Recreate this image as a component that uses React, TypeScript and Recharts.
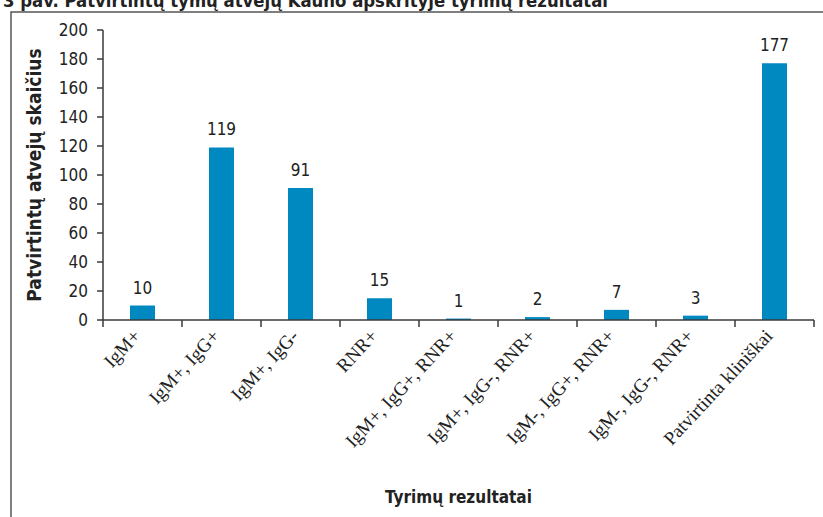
import React from "react";
import { BarChart, Bar, XAxis, YAxis, LabelList, Label } from "recharts";

const categories = [
  "IgM+",
  "IgM+, IgG+",
  "IgM+, IgG-",
  "RNR+",
  "IgM+, IgG+, RNR+",
  "IgM+, IgG-, RNR+",
  "IgM-, IgG+, RNR+",
  "IgM-, IgG-, RNR+",
  "Patvirtinta kliniškai",
];
const cases = [10, 119, 91, 15, 1, 2, 7, 3, 177];
const yTicks = [0, 20, 40, 60, 80, 100, 120, 140, 160, 180, 200];
const titleText = "3 pav. Patvirtintų tymų atvejų Kauno apskrityje tyrimų rezultatai";
const yTitle = "Patvirtintų atvejų skaičius";
const xTitle = "Tyrimų rezultatai";

const data = categories.map((c, i) => ({ name: c, value: cases[i] }));

const W = 823;
const H = 517;
const LEFT = 103;
const RIGHT = 9;
const BAND = (W - LEFT - RIGHT) / categories.length;
const NARROW = "'Liberation Sans Narrow', 'DejaVu Sans Condensed', 'Arial Narrow', sans-serif";
const AXIS_COLOR = "#3a3a3a";

const XTick = (props: any) => {
  const { x, y, payload, index } = props;
  const last = index === categories.length - 1;
  return (
    <g>
      <line x1={x - BAND / 2} y1={y - 8} x2={x - BAND / 2} y2={y - 1} stroke={AXIS_COLOR} strokeWidth={1.5} />
      {last && (
        <line x1={x + BAND / 2} y1={y - 8} x2={x + BAND / 2} y2={y - 1} stroke={AXIS_COLOR} strokeWidth={1.5} />
      )}
      <text
        x={x - 1}
        y={y + 9}
        transform={`rotate(-47, ${x - 1}, ${y + 9})`}
        textAnchor="end"
        fontFamily="'Liberation Serif', 'DejaVu Serif', serif"
        fontSize={19}
        fill="#222"
      >
        {payload.value}
      </text>
    </g>
  );
};

export default function App() {
  return (
    <div style={{ position: "absolute", left: 0, top: 0, width: W, height: H, overflow: "hidden", background: "#fff" }}>
      <svg width={W} height={H} style={{ position: "absolute", left: 0, top: 0 }}>
        <text
          x={3}
          y={7}
          fontFamily={NARROW}
          fontWeight="bold"
          fontSize={17}
          fill="#222"
          textLength={605}
          lengthAdjust="spacingAndGlyphs"
        >
          {titleText}
        </text>
        <rect x={11} y={12} width={900} height={600} fill="#fff" stroke="#555" strokeWidth={1.5} />
      </svg>
      <div style={{ position: "absolute", left: 0, top: 0 }}>
        <BarChart
          width={W}
          height={H}
          data={data}
          margin={{ top: 30, right: RIGHT, bottom: 0, left: 0 }}
          barCategoryGap={27}
        >
          <XAxis
            dataKey="name"
            height={197}
            interval={0}
            tickLine={false}
            axisLine={{ stroke: AXIS_COLOR, strokeWidth: 1.5 }}
            tick={<XTick />}
          >
            <Label
              value={xTitle}
              position="insideBottom"
              offset={14}
              fontFamily={NARROW}
              fontWeight="bold"
              fontSize={17}
              fill="#222"
            />
          </XAxis>
          <YAxis
            width={LEFT}
            domain={[0, 200]}
            ticks={yTicks}
            interval={0}
            tickSize={6}
            tickMargin={9}
            axisLine={{ stroke: AXIS_COLOR, strokeWidth: 1.5 }}
            tickLine={{ stroke: AXIS_COLOR, strokeWidth: 1.5 }}
            tick={{ fontFamily: NARROW, fontSize: 17, fill: "#222" }}
          >
            <Label
              value={yTitle}
              angle={-90}
              position="insideLeft"
              offset={34}
              style={{ textAnchor: "middle" }}
              fontFamily={NARROW}
              fontWeight="bold"
              fontSize={19}
              fill="#222"
            />
          </YAxis>
          <Bar dataKey="value" fill="#0088c0" isAnimationActive={false}>
            <LabelList
              dataKey="value"
              position="top"
              offset={12}
              fontFamily={NARROW}
              fontSize={17}
              fill="#222"
            />
          </Bar>
        </BarChart>
      </div>
    </div>
  );
}
